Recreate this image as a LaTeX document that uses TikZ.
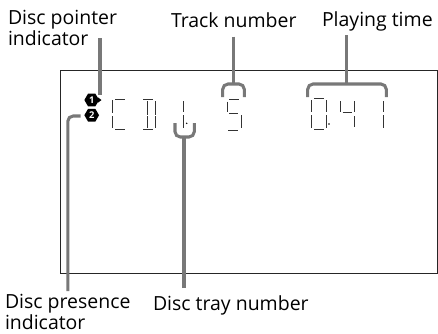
\documentclass[tikz,border=0pt]{standalone}
\usepackage{fontspec}
\setmainfont{Open Sans}
\usetikzlibrary{shapes.geometric}
\definecolor{lead}{gray}{0.47}
\tikzset{
 x=0.75pt,y=-0.75pt,
 lbl/.style={inner sep=0pt,outer sep=0pt,anchor=base west,align=left,font=\fontsize{14.6pt}{15.5pt}\selectfont},
 lcd/.style={line width=0.7pt,black!80},
 leader/.style={line width=2.3pt,lead,rounded corners=4pt},
 badge/.style={regular polygon,regular polygon sides=6,fill=black,inner sep=0pt,minimum size=11pt,text=white,font=\fontsize{7pt}{7pt}\selectfont\bfseries},
}
\begin{document}
\begin{tikzpicture}
\useasboundingbox (0,0) rectangle (438,333);
\draw[line width=0.8pt,black!85] (60.7,70.7) rectangle (437.4,273.3);
% labels
\node[lbl] (lp) at (8,45.2) {Disc pointer\\indicator};
\node[lbl] (lt) at (171,27.3) {Track number};
\node[lbl] (lg) at (322,26) {Playing time};
\node[lbl] (ls) at (5,329.3) {Disc presence\\indicator};
\node[lbl] (lr) at (153,310) {Disc tray number};
% badges
\node[badge] (b1) at (91.7,100) {1};
\node[badge] (b2) at (91.7,115.2) {2};
\fill (97.5,97) -- (101.5,100) -- (97.5,103) -- cycle;
% free ends
\coordinate (p0) at (100,38);
\coordinate (p1) at (100,95);
\coordinate (s0) at (80.5,116);
\coordinate (s1) at (67.8,116);
\coordinate (s2) at (67.8,291);
\coordinate (t0) at (233.7,36.5);
\coordinate (t1) at (233.7,84);
\coordinate (tl) at (222.7,97);
\coordinate (tl2) at (222.7,84);
\coordinate (tr) at (244.3,97);
\coordinate (tr2) at (244.3,84);
\coordinate (g0) at (346.7,35);
\coordinate (g1) at (346.7,84);
\coordinate (gl) at (307.7,97);
\coordinate (gl2) at (307.7,84);
\coordinate (gr) at (386.3,97);
\coordinate (gr2) at (386.3,84);
\coordinate (r0) at (184,288);
\coordinate (r1) at (184,137);
\coordinate (rl) at (175,123);
\coordinate (rl2) at (175,137);
\coordinate (rr) at (194.3,123);
\coordinate (rr2) at (194.3,137);
% leaders
\draw[leader] (p0) -- (p1);
\draw[leader] (s0) -- (s1) -- (s2);
\draw[leader] (t0) -- (t1);
\draw[leader] (tl) -- (tl2) -- (tr2) -- (tr);
\draw[leader] (g0) -- (g1);
\draw[leader] (gl) -- (gl2) -- (gr2) -- (gr);
\draw[leader] (r0) -- (r1);
\draw[leader] (rl) -- (rl2) -- (rr2) -- (rr);
% LCD segments
\draw[lcd]
 % C
 (115,99)--(125,99) (115,129)--(125,129) (112.3,100)--(112.3,113) (112.3,116)--(112.3,128)
 % D
 (143,99)--(153,99) (143,129)--(153,129) (147.3,101)--(147.3,115) (147.3,116)--(147.3,128) (155,101)--(155,115) (155,116)--(155,128)
 % 1
 (183,101)--(183,112) (183,115)--(183,128)
 % 5
 (229,99)--(239,99) (227.3,101.5)--(227.3,112) (229,113.3)--(238,113.3) (241,115)--(241,128) (228,130)--(238,130)
 % 0
 (314,98.8)--(324,98.8) (314,129)--(324,129) (311.7,100)--(311.7,112) (311.7,115)--(311.7,128) (326,100)--(326,112) (326,115)--(326,128)
 % 4
 (340.3,101)--(340.3,112) (342.7,112.7)--(351.7,112.7) (354,101)--(354,112) (354,116)--(354,127)
 % 1
 (383,101)--(383,112) (383,115)--(383,128);
\fill (186.7,123.3) circle (0.8);
\fill (329,124) circle (0.8);
\end{tikzpicture}
\end{document}
